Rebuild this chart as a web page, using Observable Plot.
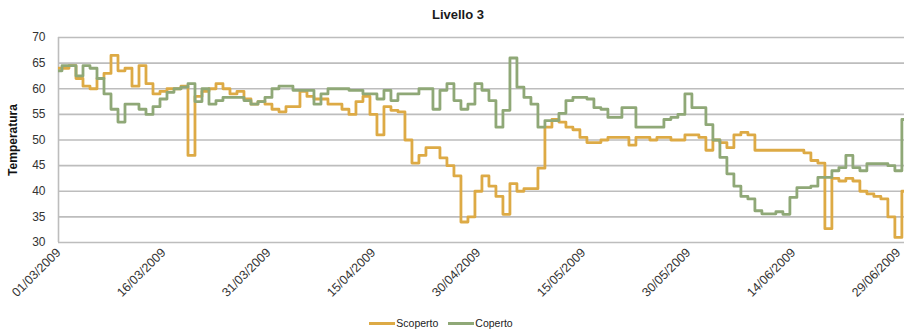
<!DOCTYPE html>
<html>
<head>
<meta charset="utf-8">
<script src="https://cdn.jsdelivr.net/npm/d3@7"></script>
<script src="https://cdn.jsdelivr.net/npm/@observablehq/plot@0.6"></script>
<style>
  html, body { margin: 0; padding: 0; background: #fff; }
  body { width: 904px; height: 333px; overflow: hidden; font-family: "Liberation Sans", Arial, sans-serif; }
  #title { height: 28px; line-height: 29px; text-align: center; font-weight: bold; font-size: 13px; color: #1a1a1a; padding-left: 12px; box-sizing: border-box; width: 904px; }
  #legend { display: flex; justify-content: center; align-items: center; height: 20px; font-size: 10.5px; color: #222; padding-right: 22px; box-sizing: border-box; width: 904px; }
  #legend .item { display: flex; align-items: center; margin: 0 5px; }
  #legend .sw { display: inline-block; width: 26px; height: 3px; margin-right: 1px; }
</style>
</head>
<body>
<div id="title">Livello 3</div>
<div id="chart"></div>
<div id="legend"></div>
<script>
// ---- data ----
const title = "Livello 3";
const yLabel = "Temperatura";
const seriesNames = ["Scoperto", "Coperto"];
const seriesColors = ["#DDAA45", "#8FA877"];
const startDate = "2009-03-01";
const tickLabels = ["01/03/2009","16/03/2009","31/03/2009","15/04/2009","30/04/2009","15/05/2009","30/05/2009","14/06/2009","29/06/2009"];
const yTicks = [30, 35, 40, 45, 50, 55, 60, 65, 70];

// daily readings from 01/03/2009 (one value per day)
const scoperto = [
  64, 64, 64.5, 62, 60.5, 60, 62, 63, 66.5, 63.5,
  64, 60.5, 64.5, 61, 59, 59.5, 60, 60, 60.5, 47,
  58.5, 59.5, 60, 61, 60, 59, 59.5, 58, 57, 57.5,
  57, 56, 55.5, 56.5, 56.5, 59.5, 58.5, 58, 58, 57,
  57, 56, 55, 57.5, 58.5, 55, 51, 56.5, 55.8, 55.5,
  50, 45.5, 47, 48.5, 48.5, 46.5, 45, 43, 34, 35,
  40, 43, 41, 39, 35.5, 41.5, 40, 40.5, 40.5, 44.5,
  52.5, 54, 53.5, 52.5, 52, 50.5, 49.5, 49.5, 50, 50.5,
  50.5, 50.5, 49, 50.5, 50.5, 50, 50.5, 50.5, 50, 50,
  51, 51, 50.5, 48, 50, 49.5, 48.5, 51, 51.5, 51,
  48, 48, 48, 48, 48, 48, 48, 47.5, 46, 45.5,
  32.7, 42.5, 42, 42.5, 42, 40, 39.5, 39, 38.5, 35,
  31, 40
];
const coperto = [
  63.5, 64.5, 64.5, 62.5, 64.5, 64, 62, 59, 56, 53.5,
  57, 57, 56, 55, 56.5, 58, 59.3, 60, 60.3, 61,
  57.5, 60, 57, 57.7, 58.3, 58.3, 58.3, 57.7, 57, 57.5,
  58.3, 60, 60.5, 60.5, 59.7, 59.7, 59.7, 57, 59, 60,
  60, 60, 59.7, 59.7, 59, 59, 58, 59.7, 57.7, 59,
  59, 59, 60, 60, 56, 59.7, 61, 57.7, 56, 57,
  61, 59.7, 57.7, 52.5, 55.8, 66, 60.3, 58.3, 57, 52.5,
  53.8, 53.8, 55.2, 57.7, 58.3, 58.3, 58, 56.3, 56, 54.4,
  54.4, 56.3, 56.3, 52.5, 52.5, 52.5, 52.5, 54, 54.4, 55,
  59, 56.3, 56.3, 53, 50, 46.6, 43.4, 41, 39, 38.5,
  36.2, 35.6, 35.6, 36, 35.5, 38.8, 40.7, 40.7, 41, 42.7,
  42.7, 44, 44.6, 47, 44.6, 44, 45.4, 45.4, 45.4, 45,
  44, 54
];

// ---- build table ----
const parseTick = d3.utcParse("%d/%m/%Y");
const start = d3.utcParse("%Y-%m-%d")(startDate);
const rows = [];
[scoperto, coperto].forEach((vals, si) => {
  vals.forEach((v, i) => rows.push({date: d3.utcDay.offset(start, i), value: v, series: seriesNames[si]}));
});
const tickDates = tickLabels.map(parseTick);
const xEnd = d3.utcHour.offset(d3.utcDay.offset(start, 120), 21);

const chart = Plot.plot({
  width: 904,
  height: 285,
  marginLeft: 58,
  marginRight: 0,
  marginTop: 9,
  marginBottom: 71,
  style: {fontFamily: '"Liberation Sans", Arial, sans-serif', fontSize: "12px", color: "#333", background: "#fff"},
  x: {type: "utc", domain: [start, xEnd]},
  y: {domain: [30, 70]},
  color: {domain: seriesNames, range: seriesColors},
  marks: [
    Plot.ruleY(yTicks, {stroke: "#bdbdbd", strokeWidth: 1.6}),
    Plot.ruleX([start], {y1: 30, y2: 70, stroke: "#bdbdbd", strokeWidth: 1.6}),
    Plot.axisY({ticks: yTicks, tickSize: 0, tickPadding: 13, fontSize: 12, label: yLabel, labelAnchor: "center", labelArrow: "none", labelOffset: 50, fill: "#333"}),
    Plot.axisX({ticks: tickDates, tickFormat: (d, i) => tickLabels[i], tickRotate: -45, tickSize: 0, tickPadding: 8, fontSize: 12.5, label: null, fill: "#333"}),
    Plot.line(rows, {x: "date", y: "value", z: "series", stroke: "series", strokeWidth: 2.8, curve: "step", clip: true})
  ]
});
document.getElementById("chart").appendChild(chart);
// bold y label
d3.select(chart).selectAll("g[aria-label='y-axis label'] text, g[aria-label='y-axis label']").attr("font-weight", "bold").style("font-size", "12px").attr("fill", "#111");

// legend
const legend = document.getElementById("legend");
seriesNames.forEach((n, i) => {
  const it = document.createElement("span");
  it.className = "item";
  const sw = document.createElement("span");
  sw.className = "sw";
  sw.style.background = seriesColors[i];
  const tx = document.createElement("span");
  tx.textContent = n;
  it.appendChild(sw); it.appendChild(tx);
  legend.appendChild(it);
});
</script>
</body>
</html>
